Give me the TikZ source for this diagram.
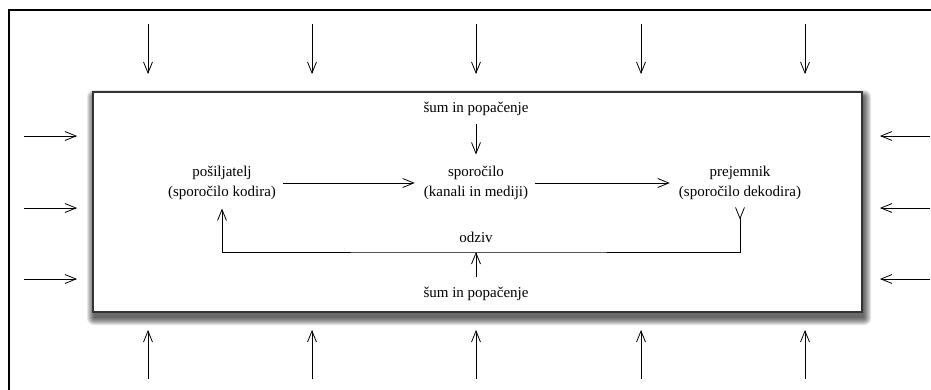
\documentclass[tikz,border=0pt]{standalone}
\usepackage{fontspec}
\setmainfont{Liberation Serif}
\usetikzlibrary{arrows.meta}

\begin{document}
\begin{tikzpicture}[x=1pt,y=-1pt,
  lbl/.style={font=\fontsize{15}{20}\selectfont, align=center, inner sep=0pt},
  tip/.style={-{Straight Barb[length=11pt,width=9pt]}, line width=0.8pt},
  flow/.style={tip, shorten <=7pt, shorten >=9pt},
  framebox/.style={draw=black!80, line width=1.2pt, fill=white}
]
\useasboundingbox (0,0) rectangle (931,389);
\fill[white] (0,0) rectangle (931,389);

% surrounding frame (only top and left edges fall inside the page)
\draw[line width=2pt] (9,395) -- (9,10) -- (940,10);

% soft drop shadow of the communication area, built from stacked layers
\foreach \k in {0,...,7} {
  \pgfmathsetmacro{\g}{7-\k}
  \fill[black, opacity=0.1, rounded corners=\g pt]
    (94-\g,97-\g) rectangle (864+\g,318+\g);
}

% communication area
\node[framebox, minimum width=769pt, minimum height=220pt, inner sep=0pt] (area) at (477.5,202) {};

% environment noise pressing in from all sides
\foreach \x [count=\i] in {148,312,476,641,805} {
  \coordinate (t\i a) at (\x,24);  \coordinate (t\i b) at (\x,74);
  \coordinate (b\i a) at (\x,379); \coordinate (b\i b) at (\x,330);
  \draw[tip] (t\i a) -- (t\i b);
  \draw[tip] (b\i a) -- (b\i b);
}
\foreach \y [count=\i] in {136,208,279} {
  \coordinate (l\i a) at (24,\y);  \coordinate (l\i b) at (77,\y);
  \coordinate (r\i a) at (930,\y); \coordinate (r\i b) at (880,\y);
  \draw[tip] (l\i a) -- (l\i b);
  \draw[tip] (r\i a) -- (r\i b);
}

% participants
\node[lbl] (send) at (222,183) {pošiljatelj\\(sporočilo kodira)};
\node[lbl] (msg)  at (476,183) {sporočilo\\(kanali in mediji)};
\node[lbl] (recv) at (740,183) {prejemnik\\(sporočilo dekodira)};

\node[lbl] (ntop) at (476,109) {šum in popačenje};
\node[lbl] (nbot) at (476,294) {šum in popačenje};
\node[lbl] (fb)   at (476,237) {odziv};

\coordinate (fbm) at (476,252);

\draw[flow] (send.east) -- (msg.west);
\draw[flow] (msg.east) -- (recv.west);
\draw[tip, shorten <=8pt, shorten >=11.5pt] (ntop.south) -- (msg.north);
\draw[tip, shorten <=9.5pt] (nbot.north) -- (fbm);

% feedback loop
\draw[{Straight Barb[reversed,length=11pt,width=9pt]}-{Straight Barb[length=11pt,width=9pt]},
      line width=0.8pt, shorten <=7pt, shorten >=8.5pt]
  (recv.south) |- (fbm) -| (send.south);
\end{tikzpicture}
\end{document}
